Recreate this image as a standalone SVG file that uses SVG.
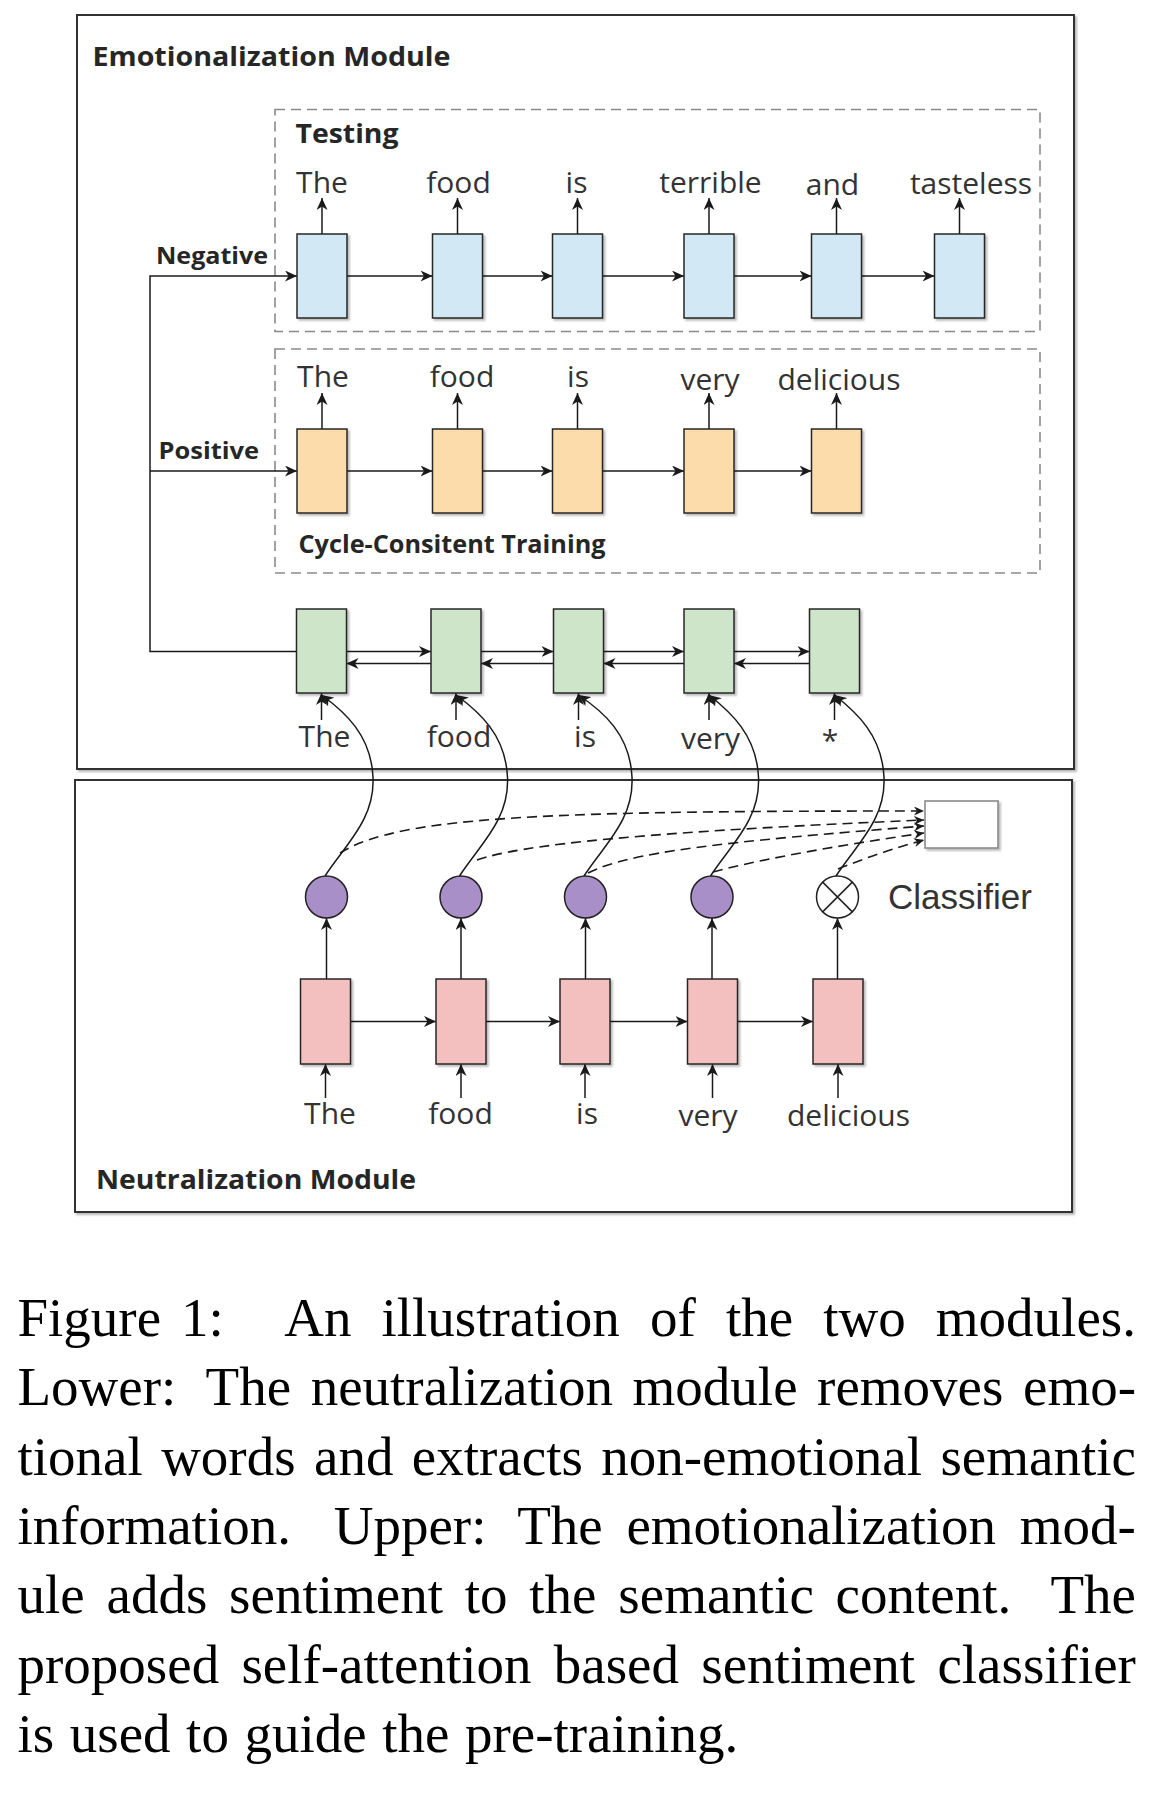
<svg xmlns="http://www.w3.org/2000/svg" width="1154" height="1808" viewBox="0 0 1154 1808">
<defs>
<marker id="arr" markerUnits="userSpaceOnUse" markerWidth="12" markerHeight="11" viewBox="0 0 12 11" refX="12" refY="5.5" orient="auto"><path d="M0,0 L12,5.5 L0,11 L3.5,5.5 Z" fill="#1a1a1a"/></marker>
<marker id="arrs" markerUnits="userSpaceOnUse" markerWidth="10" markerHeight="9" viewBox="0 0 10 9" refX="10" refY="4.5" orient="auto"><path d="M0,0 L10,4.5 L0,9 L3,4.5 Z" fill="#1a1a1a"/></marker>
<filter id="sh" x="-20%" y="-20%" width="150%" height="150%"><feDropShadow dx="2" dy="2" stdDeviation="1" flood-color="#000" flood-opacity="0.28"/></filter>
</defs>
<style>
.box{fill:#fff;stroke:#333;stroke-width:2;filter:url(#sh)}
.dbox{fill:none;stroke:#8a8a8a;stroke-width:1.6;stroke-dasharray:10 6}
.cell{stroke:#262626;stroke-width:1.5;filter:url(#sh)}
.blue{fill:#d2e8f4}.orange{fill:#fddcab}.green{fill:#cfe5c9}.pink{fill:#f4bfbf}
.att{fill:#a88fc8;stroke:#222;stroke-width:1.5}
.conn{fill:none;stroke:#1a1a1a;stroke-width:1.5}
.arr{marker-end:url(#arr)}
.dash{fill:none;stroke:#1a1a1a;stroke-width:1.6;stroke-dasharray:10 6;marker-end:url(#arrs)}
.w{font-family:"Open Sans",sans-serif;font-size:30px;fill:#333;text-anchor:middle}
.b{font-family:"Open Sans",sans-serif;font-weight:bold;fill:#262626}
.cap{font-family:"Liberation Serif",serif;font-size:55px;fill:#000}
</style>
<rect width="1154" height="1808" fill="#fff"/>

<g id="emotionalization-module">
<rect class="box" x="77" y="15" width="997" height="754"/>
<text class="b" x="92.5" y="66" font-size="27" textLength="358" lengthAdjust="spacingAndGlyphs">Emotionalization Module</text>
</g>
<g id="neutralization-module">
<rect class="box" x="75" y="780" width="997" height="432"/>
<text class="b" x="96" y="1189" font-size="27" textLength="320" lengthAdjust="spacingAndGlyphs">Neutralization Module</text>
</g>
<g id="testing-group">
<rect class="dbox" x="275" y="109.5" width="765" height="222"/>
<text class="b" x="295.5" y="143" font-size="27" textLength="103" lengthAdjust="spacingAndGlyphs">Testing</text>
</g>
<g id="cycle-group">
<rect class="dbox" x="275" y="349" width="765" height="224"/>
<text class="b" x="298.5" y="553" font-size="25.5" textLength="307" lengthAdjust="spacingAndGlyphs">Cycle-Consitent Training</text>
</g>
<g id="label-negative"><text class="b" x="156" y="264" font-size="24" textLength="112" lengthAdjust="spacingAndGlyphs">Negative</text></g>
<g id="label-positive"><text class="b" x="158.5" y="458.5" font-size="24" textLength="100.5" lengthAdjust="spacingAndGlyphs">Positive</text></g>

<g id="connectors">
<path class="conn arr" d="M296.5 651.5 H150 V276 H297"/>
<path class="conn arr" d="M150 471 H297"/>
<path class="conn arr" d="M347 276 H432.5"/>
<path class="conn arr" d="M482.5 276 H552.5"/>
<path class="conn arr" d="M602.5 276 H684"/>
<path class="conn arr" d="M734 276 H811.5"/>
<path class="conn arr" d="M861.5 276 H934.5"/>
<path class="conn arr" d="M322 234 V198"/>
<path class="conn arr" d="M457.5 234 V198"/>
<path class="conn arr" d="M577.5 234 V198"/>
<path class="conn arr" d="M709 234 V198"/>
<path class="conn arr" d="M836.5 234 V198"/>
<path class="conn arr" d="M959.5 234 V198"/>
<path class="conn arr" d="M347 471 H432.5"/>
<path class="conn arr" d="M482.5 471 H552.5"/>
<path class="conn arr" d="M602.5 471 H684"/>
<path class="conn arr" d="M734 471 H811.5"/>
<path class="conn arr" d="M322 429 V393"/>
<path class="conn arr" d="M457.5 429 V393"/>
<path class="conn arr" d="M577.5 429 V393"/>
<path class="conn arr" d="M709 429 V393"/>
<path class="conn arr" d="M836.5 429 V393"/>
<path class="conn arr" d="M346.5 651.5 H431"/>
<path class="conn arr" d="M481 651.5 H553.5"/>
<path class="conn arr" d="M603.5 651.5 H684"/>
<path class="conn arr" d="M734 651.5 H809.5"/>
<path class="conn arr" d="M431 663.5 H346.5"/>
<path class="conn arr" d="M553.5 663.5 H481"/>
<path class="conn arr" d="M684 663.5 H603.5"/>
<path class="conn arr" d="M809.5 663.5 H734"/>
<path class="conn arr" d="M321.5 720 V693"/>
<path class="conn arr" d="M456 720 V693"/>
<path class="conn arr" d="M578.5 720 V693"/>
<path class="conn arr" d="M709 720 V693"/>
<path class="conn arr" d="M834.5 720 V693"/>
<path class="conn arr" d="M325 876 C345 845 375 820 373 777 C371 735 345 712 321.5 695"/>
<path class="conn arr" d="M459.5 876 C479.5 845 509.5 820 507.5 777 C505.5 735 479.5 712 456 695"/>
<path class="conn arr" d="M584 876 C604 845 634 820 632 777 C630 735 604 712 578.5 695"/>
<path class="conn arr" d="M710.5 876 C730.5 845 760.5 820 758.5 777 C756.5 735 730.5 712 709 695"/>
<path class="conn arr" d="M836 876 C856 845 886 820 884 777 C882 735 856 712 834.5 695"/>
<path class="dash" d="M340 853 C400 815 560 811 924 811"/>
<path class="dash" d="M477 860 C520 845 640 832 924 820"/>
<path class="dash" d="M588 873 C630 852 720 842 924 826"/>
<path class="dash" d="M713 872 C750 862 820 848 924 833"/>
<path class="dash" d="M838 869 Q880 852 924 840"/>
<path class="conn arr" d="M326.5 979 V918"/>
<path class="conn arr" d="M461 979 V918"/>
<path class="conn arr" d="M585.5 979 V918"/>
<path class="conn arr" d="M712 979 V918"/>
<path class="conn arr" d="M837.5 979 V918"/>
<path class="conn arr" d="M350.5 1021.5 H436"/>
<path class="conn arr" d="M486 1021.5 H560"/>
<path class="conn arr" d="M610 1021.5 H687.5"/>
<path class="conn arr" d="M737.5 1021.5 H813"/>
<path class="conn arr" d="M325.5 1098 V1064"/>
<path class="conn arr" d="M461 1098 V1064"/>
<path class="conn arr" d="M585 1098 V1064"/>
<path class="conn arr" d="M712.5 1098 V1064"/>
<path class="conn arr" d="M838 1098 V1064"/>
</g>

<g id="neg-cells">
<rect id="n1" class="cell blue" x="297" y="234" width="50" height="84"/>
<rect id="n2" class="cell blue" x="432.5" y="234" width="50" height="84"/>
<rect id="n3" class="cell blue" x="552.5" y="234" width="50" height="84"/>
<rect id="n4" class="cell blue" x="684" y="234" width="50" height="84"/>
<rect id="n5" class="cell blue" x="811.5" y="234" width="50" height="84"/>
<rect id="n6" class="cell blue" x="934.5" y="234" width="50" height="84"/>
</g>
<g id="neg-words">
<text class="w" x="322" y="192.5">The</text>
<text class="w" x="458.5" y="192.5">food</text>
<text class="w" x="576.5" y="192.5">is</text>
<text class="w" x="710.5" y="192.5">terrible</text>
<text class="w" x="832.5" y="195">and</text>
<text class="w" x="971" y="194">tasteless</text>
</g>
<g id="pos-cells">
<rect id="p1" class="cell orange" x="297" y="429" width="50" height="84"/>
<rect id="p2" class="cell orange" x="432.5" y="429" width="50" height="84"/>
<rect id="p3" class="cell orange" x="552.5" y="429" width="50" height="84"/>
<rect id="p4" class="cell orange" x="684" y="429" width="50" height="84"/>
<rect id="p5" class="cell orange" x="811.5" y="429" width="50" height="84"/>
</g>
<g id="pos-words">
<text class="w" x="323" y="387">The</text>
<text class="w" x="462" y="387">food</text>
<text class="w" x="578" y="387">is</text>
<text class="w" x="710" y="390">very</text>
<text class="w" x="839" y="390">delicious</text>
</g>
<g id="enc-cells">
<rect id="e1" class="cell green" x="296.5" y="609" width="50" height="84"/>
<rect id="e2" class="cell green" x="431" y="609" width="50" height="84"/>
<rect id="e3" class="cell green" x="553.5" y="609" width="50" height="84"/>
<rect id="e4" class="cell green" x="684" y="609" width="50" height="84"/>
<rect id="e5" class="cell green" x="809.5" y="609" width="50" height="84"/>
</g>
<g id="enc-words">
<text class="w" x="324.5" y="747">The</text>
<text class="w" x="459" y="747">food</text>
<text class="w" x="585" y="747">is</text>
<text class="w" x="710.5" y="749">very</text>
<text class="w" x="830" y="751">*</text>
</g>
<g id="attention">
<circle class="att" cx="326.5" cy="897" r="21"/>
<circle class="att" cx="461" cy="897" r="21"/>
<circle class="att" cx="585.5" cy="897" r="21"/>
<circle class="att" cx="712" cy="897" r="21"/>
<g id="mask">
<circle cx="837.5" cy="897" r="21" fill="#fff" stroke="#222" stroke-width="1.5"/>
<path d="M822.65 882.15 L852.35 911.85 M852.35 882.15 L822.65 911.85" stroke="#222" stroke-width="1.5"/>
</g>
</g>
<g id="classifier">
<rect x="925" y="801" width="73" height="47" fill="#fff" stroke="#8a8a8a" stroke-width="1.6" filter="url(#sh)"/>
<text x="888" y="909" font-family="Liberation Sans, sans-serif" font-size="35" fill="#333">Classifier</text>
</g>
<g id="neu-cells">
<rect id="r1" class="cell pink" x="300.5" y="979" width="50" height="85"/>
<rect id="r2" class="cell pink" x="436" y="979" width="50" height="85"/>
<rect id="r3" class="cell pink" x="560" y="979" width="50" height="85"/>
<rect id="r4" class="cell pink" x="687.5" y="979" width="50" height="85"/>
<rect id="r5" class="cell pink" x="813" y="979" width="50" height="85"/>
</g>
<g id="neu-words">
<text class="w" x="330" y="1123.5">The</text>
<text class="w" x="460.5" y="1123.5">food</text>
<text class="w" x="587" y="1123.5">is</text>
<text class="w" x="708" y="1126">very</text>
<text class="w" x="848.5" y="1126">delicious</text>
</g>

<g id="caption">
<text class="cap" y="1336"><tspan x="17.5">Figure</tspan><tspan x="181.1">1:</tspan><tspan x="284.2" word-spacing="16.37">An illustration of the two modules.</tspan></text>
<text class="cap" y="1405.3"><tspan x="17.5">Lower:</tspan><tspan x="205.6" word-spacing="5.8">The neutralization module removes emo-</tspan></text>
<text class="cap" y="1474.6" x="17.5" word-spacing="4.65">tional words and extracts non-emotional semantic</text>
<text class="cap" y="1543.9"><tspan x="17.5">information.</tspan><tspan x="333.7">Upper:</tspan><tspan x="517.2" word-spacing="9.95">The emotionalization mod-</tspan></text>
<text class="cap" y="1613.2"><tspan x="17.5" word-spacing="8.05">ule adds sentiment to the semantic content.</tspan><tspan x="1050.5">The</tspan></text>
<text class="cap" y="1682.5" x="17.5" word-spacing="8.5">proposed self-attention based sentiment classifier</text>
<text class="cap" y="1751.8" x="17.5" word-spacing="1.8">is used to guide the pre-training.</text>
</g>
</svg>
